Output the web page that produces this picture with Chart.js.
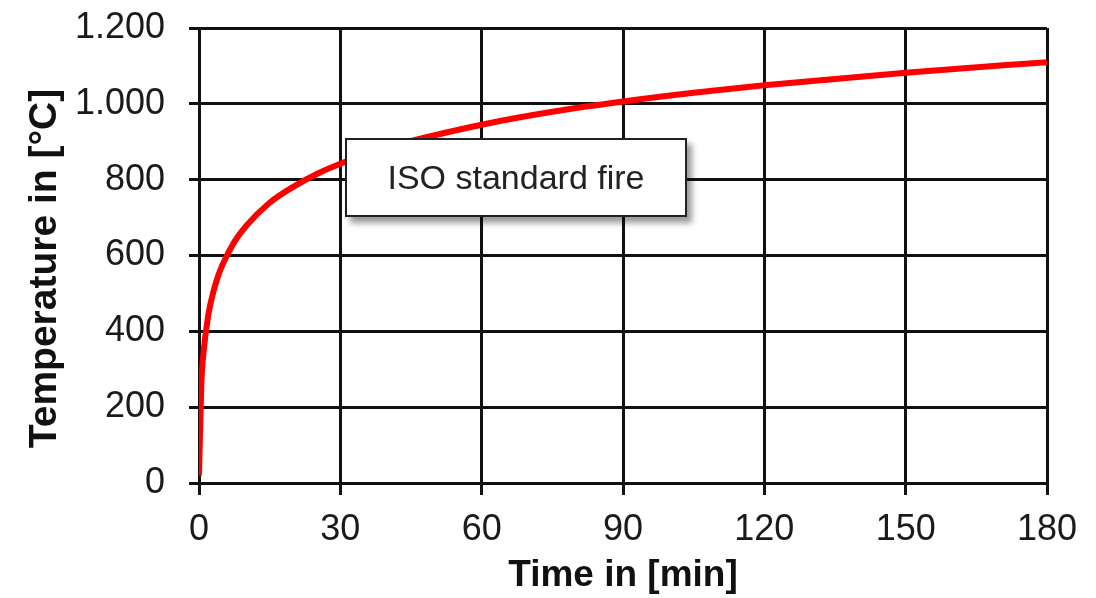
<!DOCTYPE html>
<html>
<head>
<meta charset="utf-8">
<script src="https://cdn.jsdelivr.net/npm/chart.js@4"></script>
<style>
  html, body { margin: 0; padding: 0; background: #fff; }
  #wrap { position: relative; width: 1096px; height: 598px; }
  #label {
    position: absolute; left: 345px; top: 138px; width: 338px; height: 75px;
    border: 2px solid #222; background: #fff;
    box-shadow: 5px 6px 6px rgba(0,0,0,0.4);
    font: 34px "Liberation Sans", Arial, sans-serif; color: #222;
    display: flex; align-items: center; justify-content: center;
  }
</style>
</head>
<body>
<div id="wrap">
  <canvas id="c" width="1096" height="598"></canvas>
  <div id="label">ISO standard fire</div>
</div>
<script>
// time in minutes and temperature in °C
var times = [0, 0.5, 1, 2, 3, 4, 5, 7.5, 10, 15, 20, 25, 30, 40, 45, 60, 75, 90, 105, 120, 150, 180];
var temps = [20, 261, 349, 445, 502, 544, 576, 636, 678, 739, 781, 815, 842, 885, 902, 945, 979, 1006, 1029, 1049, 1082, 1110];

var xTickLabels = ['0', '30', '60', '90', '120', '150', '180'];
var yTickLabels = ['0', '200', '400', '600', '800', '1.000', '1.200'];
var yTitle = 'Temperature in [°C]';

var points = times.map(function(t, i){ return {x: t, y: temps[i]}; });

var gridColor = '#111';
var fontFamily = '"Liberation Sans", Arial, sans-serif';

// y title sits a bit below the middle of the plot in the original, so draw it by hand
var yTitlePlugin = {
    id: 'yTitle',
    afterDraw: function(chart){
        var c = chart.ctx;
        var area = chart.chartArea;
        c.save();
        c.translate(45, (area.top + area.bottom) / 2 + 13);
        c.rotate(-Math.PI / 2);
        c.font = 'bold 39px ' + fontFamily;
        c.fillStyle = '#111';
        c.textAlign = 'center';
        c.textBaseline = 'middle';
        c.fillText(yTitle, 0, 0);
        c.restore();
    }
};

var ctx = document.getElementById('c').getContext('2d');
var myChart = new Chart(ctx, {
    type: 'line',
    data: {
        datasets: [{
            label: 'ISO standard fire',
            data: points,
            borderColor: '#ff0000',
            borderWidth: 6,
            pointRadius: 0,
            fill: false,
            cubicInterpolationMode: 'monotone'
        }]
    },
    options: {
        responsive: false,
        animation: false,
        layout: {
            padding: {top: 28, right: 49, bottom: 0, left: 0}
        },
        plugins: {
            legend: {display: false},
            tooltip: {enabled: false}
        },
        scales: {
            x: {
                type: 'linear',
                min: 0,
                max: 180,
                afterFit: function(scale){ scale.height = 115; },
                afterBuildTicks: function(scale){
                    scale.ticks = xTickLabels.map(function(l, i){ return {value: i * 30}; });
                },
                ticks: {
                    color: '#1a1a1a',
                    padding: 13,
                    maxRotation: 0,
                    font: {family: fontFamily, size: 36},
                    callback: function(v){ return xTickLabels[Math.round(v / 30)]; }
                },
                grid: {color: gridColor, lineWidth: 3, tickLength: 12},
                border: {color: gridColor, width: 3},
                title: {
                    display: true,
                    text: 'Time in [min]',
                    color: '#111',
                    padding: {top: 0, bottom: 4},
                    font: {family: fontFamily, size: 37, weight: 'bold', lineHeight: 1}
                }
            },
            y: {
                min: 0,
                max: 1200,
                afterFit: function(scale){
                    scale.width = 199;
                    scale.paddingTop = 0;
                    scale.paddingBottom = 0;
                },
                afterBuildTicks: function(scale){
                    scale.ticks = yTickLabels.map(function(l, i){ return {value: i * 200}; });
                },
                ticks: {
                    color: '#1a1a1a',
                    padding: 24,
                    font: {family: fontFamily, size: 36},
                    callback: function(v){ return yTickLabels[Math.round(v / 200)]; }
                },
                grid: {color: gridColor, lineWidth: 3, tickLength: 10},
                border: {color: gridColor, width: 3}
            }
        }
    },
    plugins: [yTitlePlugin]
});
</script>
</body>
</html>
